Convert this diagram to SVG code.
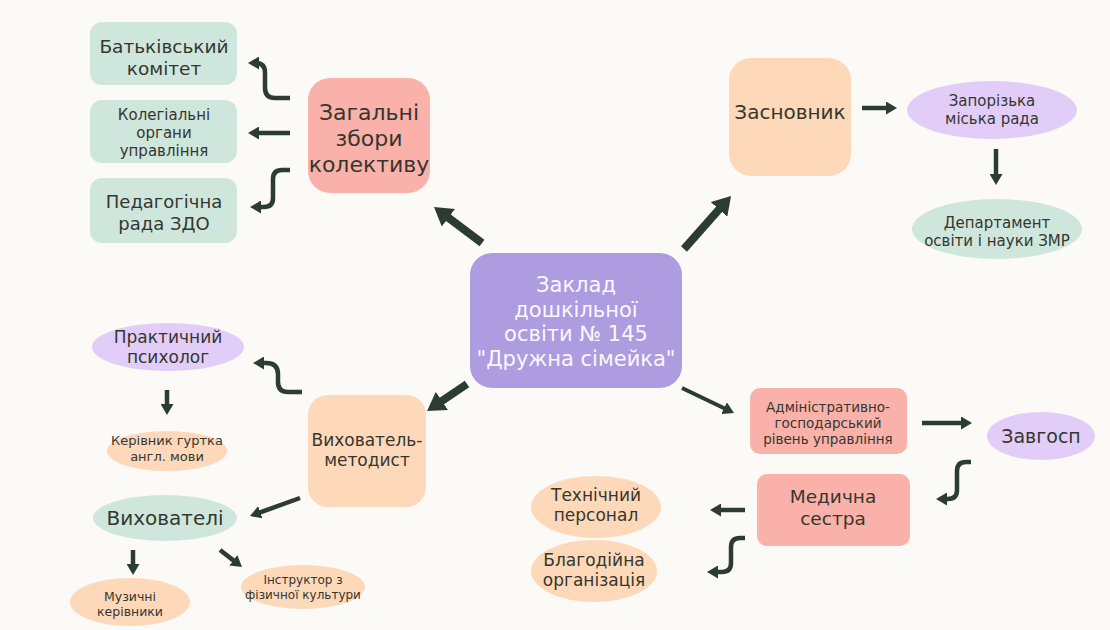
<svg xmlns="http://www.w3.org/2000/svg" width="1110" height="630" viewBox="0 0 1110 630">
<style>
.t{font-family:"DejaVu Sans","Noto Sans","Liberation Sans",sans-serif;fill:#35372f;text-anchor:middle}
.teal{fill:#cfe6dc}
.pink{fill:#f9b1a9}
.peach{fill:#fdd8b9}
.lav{fill:#e2cdf8}
.purple{fill:#ae9ce0}
.a{fill:none;stroke:#2c3c32;stroke-width:4.5;marker-end:url(#ah)}
.A{fill:none;stroke:#2c3c32;stroke-width:8;marker-end:url(#AH)}
</style>
<defs>
<marker id="ah" viewBox="0 0 11 13" refX="3" refY="6.5" markerWidth="11" markerHeight="13" markerUnits="userSpaceOnUse" orient="auto"><path d="M0,0 L11,6.5 L0,13 z" fill="#2c3c32"/></marker>
<marker id="AH" viewBox="0 0 18 22" refX="5" refY="11" markerWidth="18" markerHeight="22" markerUnits="userSpaceOnUse" orient="auto"><path d="M0,0 L18,11 L0,22 z" fill="#2c3c32"/></marker>
</defs>
<rect width="1110" height="630" fill="#fcfaf7"/>

<g id="connectors">
<path class="A" d="M482,243 L444.4,214.8"/>
<path class="A" d="M684,249 L722.4,205.7"/>
<path class="A" d="M467,384 L437.8,403.7"/>
<path class="a" style="stroke-width:4" d="M682,388 L726.8,409.5"/>
<path class="a" d="M290,133 H256"/>
<path class="a" d="M290,98 H275 Q265,98 265,88 V73 Q265,63 256,63"/>
<path class="a" d="M290,170 H282 Q273,170 273,179 V198 Q273,207 264,207 H258"/>
<path class="a" d="M862,108 H889"/>
<path class="a" d="M996,149 V177"/>
<path class="a" d="M302,392 H288 Q278,392 278,382 V374 Q278,363 266,363 H261"/>
<path class="a" d="M167,390 V407"/>
<path class="a" d="M300,498 L257.5,513.3"/>
<path class="a" d="M133,550 V567"/>
<path class="a" d="M220,550 L235.7,562.1"/>
<path class="a" d="M922,423 H964"/>
<path class="a" d="M971,462 H966 Q957,462 957,471 V490 Q957,499 948,499 H944"/>
<path class="a" d="M745,510 H718"/>
<path class="a" d="M745,538 H740 Q731,538 731,547 V563 Q731,572 722,572 H715"/>
</g>

<g id="batkivskyi">
<rect class="teal" x="90" y="22" width="147" height="63" rx="12"/>
<text class="t" x="164" y="53" font-size="18.5">Батьківський</text>
<text class="t" x="164" y="75" font-size="18.5">комітет</text>
</g>
<g id="kolehialni">
<rect class="teal" x="90" y="100" width="147" height="63" rx="12"/>
<text class="t" x="164" y="120" font-size="15">Колегіальні</text>
<text class="t" x="164" y="138" font-size="15">органи</text>
<text class="t" x="164" y="156" font-size="15">управління</text>
</g>
<g id="pedrada">
<rect class="teal" x="90" y="178" width="147" height="65" rx="12"/>
<text class="t" x="164" y="208" font-size="18">Педагогічна</text>
<text class="t" x="164" y="230" font-size="18">рада ЗДО</text>
</g>
<g id="zahalni">
<rect class="pink" x="308" y="78" width="122" height="115" rx="22"/>
<text class="t" x="369" y="120" font-size="22">Загальні</text>
<text class="t" x="369" y="146" font-size="22">збори</text>
<text class="t" x="369" y="172" font-size="22">колективу</text>
</g>
<g id="zasnovnyk">
<rect class="peach" x="729" y="58" width="122" height="118" rx="22"/>
<text class="t" x="790" y="119" font-size="20">Засновник</text>
</g>
<g id="zaporizka">
<ellipse class="lav" cx="992" cy="110" rx="85" ry="29"/>
<text class="t" x="992" y="106" font-size="15">Запорізька</text>
<text class="t" x="992" y="124" font-size="15">міська рада</text>
</g>
<g id="departament">
<ellipse class="teal" cx="997" cy="229" rx="85" ry="30"/>
<text class="t" x="997" y="228" font-size="15">Департамент</text>
<text class="t" x="997" y="246" font-size="15">освіти і науки ЗМР</text>
</g>
<g id="central">
<rect class="purple" x="470" y="253" width="212" height="135" rx="22"/>
<text class="t" style="fill:#fbf7ff" x="576" y="292" font-size="21">Заклад</text>
<text class="t" style="fill:#fbf7ff" x="576" y="316.5" font-size="21">дошкільної</text>
<text class="t" style="fill:#fbf7ff" x="576" y="341" font-size="21">освіти № 145</text>
<text class="t" style="fill:#fbf7ff" x="576" y="365.5" font-size="21">"Дружна сімейка"</text>
</g>
<g id="psykholoh">
<ellipse class="lav" cx="168" cy="347" rx="76" ry="24"/>
<text class="t" x="168" y="343" font-size="17">Практичний</text>
<text class="t" x="168" y="363" font-size="17">психолог</text>
</g>
<g id="kerivnyk">
<ellipse class="peach" cx="167" cy="451" rx="60" ry="20"/>
<text class="t" x="167" y="445" font-size="13">Керівник гуртка</text>
<text class="t" x="167" y="461" font-size="13">англ. мови</text>
</g>
<g id="metodyst">
<rect class="peach" x="308" y="395" width="118" height="112" rx="20"/>
<text class="t" x="367" y="446" font-size="17">Вихователь-</text>
<text class="t" x="367" y="466" font-size="17">методист</text>
</g>
<g id="vykhovateli">
<ellipse class="teal" cx="165" cy="518" rx="72" ry="23"/>
<text class="t" x="165" y="525" font-size="20">Вихователі</text>
</g>
<g id="muzychni">
<ellipse class="peach" cx="130" cy="602" rx="60" ry="24"/>
<text class="t" x="130" y="601" font-size="12.5">Музичні</text>
<text class="t" x="130" y="616" font-size="12.5">керівники</text>
</g>
<g id="instruktor">
<ellipse class="peach" cx="303" cy="587" rx="62" ry="22"/>
<text class="t" x="303" y="584" font-size="12">Інструктор з</text>
<text class="t" x="303" y="598.5" font-size="12">фізичної культури</text>
</g>
<g id="admin">
<rect class="pink" x="750" y="388" width="157" height="66" rx="10"/>
<text class="t" x="828" y="412" font-size="13.5">Адміністративно-</text>
<text class="t" x="828" y="428" font-size="13.5">господарський</text>
<text class="t" x="828" y="444" font-size="13.5">рівень управління</text>
</g>
<g id="zavhosp">
<ellipse class="lav" cx="1041" cy="436" rx="54" ry="24"/>
<text class="t" x="1041" y="443" font-size="19">Завгосп</text>
</g>
<g id="medsestra">
<rect class="pink" x="757" y="474" width="153" height="72" rx="10"/>
<text class="t" x="833" y="503" font-size="18.5">Медична</text>
<text class="t" x="833" y="525" font-size="18.5">сестра</text>
</g>
<g id="tekhnichnyi">
<ellipse class="peach" cx="596" cy="507" rx="65" ry="31"/>
<text class="t" x="596" y="501" font-size="17">Технічний</text>
<text class="t" x="596" y="521" font-size="17">персонал</text>
</g>
<g id="blahodiina">
<ellipse class="peach" cx="594" cy="571" rx="63" ry="31"/>
<text class="t" x="594" y="566" font-size="17">Благодійна</text>
<text class="t" x="594" y="586" font-size="17">організація</text>
</g>
</svg>
